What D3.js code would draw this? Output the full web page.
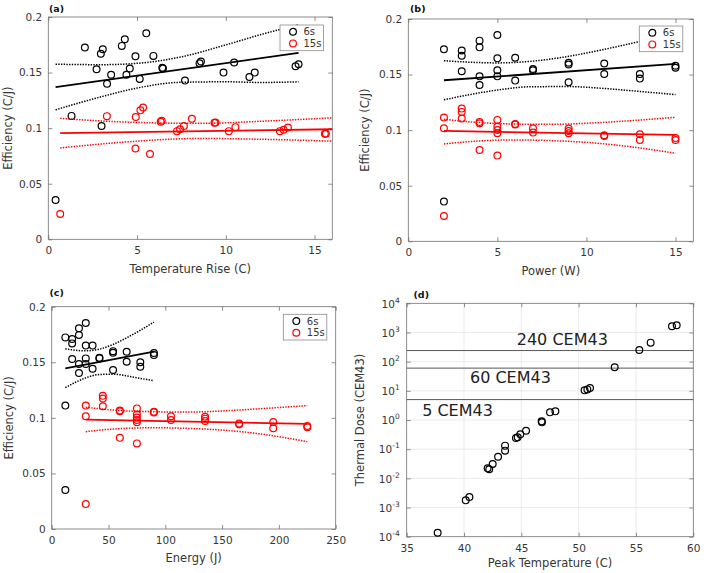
<!DOCTYPE html>
<html>
<head>
<meta charset="utf-8">
<script src="https://cdn.jsdelivr.net/npm/d3@7"></script>
<style>
  body { margin: 0; background: #fff; }
  svg { font-family: "DejaVu Sans", sans-serif; }
</style>
</head>
<body>
<svg width="709" height="573"></svg>
<script>
// ---- data ----
const seriesNames = ['6s', '15s'];
const efficiencyTicks = [0, 0.05, 0.1, 0.15, 0.2];

// (a) efficiency vs temperature rise
const tempRise6s = [[0.41,0.0353],[1.31,0.111],[2.06,0.1725],[2.72,0.153],[2.96,0.167],[3.07,0.171],
  [3.0,0.102],[3.31,0.140],[3.54,0.148],[4.14,0.174],[4.31,0.180],[4.40,0.148],[4.59,0.1536],
  [4.91,0.1647],[5.15,0.1443],[5.52,0.1853],[5.92,0.165],[6.42,0.1544],[6.46,0.1536],[7.70,0.1428],
  [8.52,0.1584],[8.60,0.160],[9.87,0.150],[10.47,0.159],[11.33,0.146],[11.63,0.150],[13.93,0.1557],[14.1,0.1575]];
const tempRise15s = [[0.67,0.0228],[3.30,0.1108],[4.93,0.110],[4.91,0.0817],[5.19,0.116],[5.34,0.1186],
  [5.73,0.0767],[6.33,0.1057],[6.39,0.1066],[7.25,0.0973],[7.42,0.099],[7.64,0.102],[8.09,0.1084],
  [9.36,0.1048],[9.42,0.105],[10.17,0.0973],[10.54,0.1009],[13.05,0.0973],[13.26,0.0985],[13.50,0.1006],
  [15.58,0.0949],[15.64,0.095]];
const tempFit6s = [[0.41,0.137],[14.1,0.1677]];
const tempUpper6s = [[0.41,0.1575],[3,0.1571],[5,0.1583],[7.4,0.1638],[10,0.1749],[12,0.1843],[14.1,0.1931]];
const tempLower6s = [[0.41,0.1165],[3,0.1283],[5,0.1361],[7.4,0.1412],[10,0.1417],[12,0.1411],[14.1,0.1417]];
const tempFit15s = [[0.67,0.0955],[16,0.0990]];
const tempUpper15s = [[0.67,0.1088],[4,0.1057],[8.5,0.1043],[12,0.1062],[16,0.1093]];
const tempLower15s = [[0.67,0.0822],[4,0.0871],[8.5,0.0907],[12,0.0900],[16,0.0883]];

// (b) efficiency vs power
const power6s = [[2,0.1727],[2,0.0357],[3,0.1716],[3,0.167],[3,0.153],[4,0.1805],[4,0.1745],[4,0.1484],
  [4,0.1406],[5,0.1856],[5,0.1646],[5,0.1539],[5,0.1484],[6,0.1652],[6,0.1446],[7,0.155],[7,0.1539],
  [9,0.1607],[9,0.159],[9,0.143],[11,0.160],[11,0.1505],[13,0.1505],[13,0.1464],[15,0.158],[15,0.1562]];
const power15s = [[2,0.1113],[2,0.1017],[2,0.0228],[3,0.1194],[3,0.1164],[3,0.1104],[4,0.1074],[4,0.1062],
  [4,0.0822],[5,0.1092],[5,0.1032],[5,0.1002],[5,0.0972],[5,0.0771],[6,0.1056],[6,0.105],[7,0.1017],
  [7,0.0978],[9,0.1014],[9,0.0993],[9,0.0972],[11,0.0954],[11,0.0948],[13,0.0963],[13,0.0912],[15,0.093],[15,0.0912]];
const powerFit6s = [[2,0.1449],[15,0.1596]];
const powerUpper6s = [[2,0.1625],[3.5,0.1611],[5,0.1605],[7,0.1621],[9,0.1664],[11,0.1727],[13,0.1798],[15,0.1874]];
const powerLower6s = [[2,0.1273],[3.5,0.1321],[5,0.1361],[7,0.1391],[9,0.1392],[11,0.1375],[13,0.1348],[15,0.1320]];
const powerFit15s = [[2,0.0993],[15,0.0957]];
const powerUpper15s = [[2,0.1098],[4,0.1068],[6,0.1055],[8,0.1052],[10,0.1062],[12,0.1080],[15,0.1116]];
const powerLower15s = [[2,0.0876],[4,0.0903],[6,0.0912],[8,0.0906],[10,0.0890],[12,0.0860],[15,0.0792]];

// (c) efficiency vs energy
const energy6s = [[12,0.1724],[12,0.111],[12,0.0351],[18,0.171],[18,0.167],[18,0.153],[24,0.1805],[24,0.1745],
  [24,0.1484],[24,0.1403],[30,0.1853],[30,0.165],[30,0.1535],[30,0.1484],[36,0.165],[36,0.1442],[42,0.1541],
  [42,0.1535],[54,0.160],[54,0.1586],[54,0.143],[66,0.1595],[66,0.1505],[78,0.150],[78,0.146],[90,0.1583],[90,0.1565]];
const energy15s = [[30,0.111],[30,0.1014],[30,0.0225],[45,0.1198],[45,0.1174],[45,0.1105],[60,0.1066],[60,0.106],
  [60,0.082],[75,0.1085],[75,0.103],[75,0.1003],[75,0.098],[75,0.096],[75,0.077],[90,0.1049],[90,0.1055],
  [105,0.1015],[105,0.098],[135,0.101],[135,0.0993],[135,0.0972],[165,0.095],[165,0.0942],[195,0.0963],
  [195,0.0906],[225,0.0927],[225,0.0915]];
const energyFit6s = [[12,0.1446],[90,0.1595]];
const energyUpper6s = [[12,0.1622],[21,0.1608],[30,0.1603],[42,0.1618],[54,0.1660],[66,0.1720],[78,0.1788],[90,0.1862]];
const energyLower6s = [[12,0.1272],[21,0.1320],[30,0.1360],[42,0.1390],[54,0.1393],[66,0.1378],[78,0.1355],[90,0.1335]];
const energyFit15s = [[30,0.0984],[225,0.0945]];
const energyUpper15s = [[30,0.1095],[60,0.1066],[90,0.1055],[120,0.1052],[150,0.1062],[180,0.1080],[225,0.1110]];
const energyLower15s = [[30,0.0876],[60,0.0903],[90,0.0911],[120,0.0905],[150,0.0890],[180,0.0860],[225,0.0786]];

// (d) thermal dose vs peak temperature
const peakTemp = [37.70,40.15,40.47,42.06,42.2,42.5,42.97,43.58,43.58,44.53,44.68,44.91,45.41,
  46.77,46.8,47.5,47.97,50.52,50.76,50.99,53.14,55.29,56.28,58.14,58.55];
const thermalDose = [1.37e-4,1.76e-3,2.29e-3,0.0220,0.0204,0.0309,0.0553,0.0891,0.132,0.2415,0.2547,0.3236,0.4305,
  0.899,0.832,1.83,1.98,10.4,11.2,12.5,64.0,251,448,1626,1762];
const doseThresholds = [5, 60, 240];
const peakTempTicks = [35, 40, 45, 50, 55, 60];
const doseTicks = [-4, -3, -2, -1, 0, 1, 2, 3, 4];

// ---- layout ----
const svg = d3.select('svg');
const boxColor = '#707070';
const textColor = '#363636';

const panels = [
  { tag: '(a)', tagPos: [49, 11.5], box: {l: 48.3, t: 17, r: 332.3, b: 239.3},
    xDomain: [0, 16], xTicks: [0, 5, 10, 15], xLabel: 'Temperature Rise (C)', xLabelY: 273, yLabelX: 12,
    six: tempRise6s, fifteen: tempRise15s,
    fit6: tempFit6s, up6: tempUpper6s, low6: tempLower6s,
    fit15: tempFit15s, up15: tempUpper15s, low15: tempLower15s,
    legend: [280, 25] },
  { tag: '(b)', tagPos: [410, 11.5], box: {l: 408.3, t: 19, r: 693.3, b: 241.3},
    xDomain: [0, 16], xTicks: [0, 5, 10, 15], xLabel: 'Power (W)', xLabelY: 275, yLabelX: 369,
    six: power6s, fifteen: power15s,
    fit6: powerFit6s, up6: powerUpper6s, low6: powerLower6s,
    fit15: powerFit15s, up15: powerUpper15s, low15: powerLower15s,
    legend: [639.3, 26] },
  { tag: '(c)', tagPos: [49.5, 296], box: {l: 51.7, t: 306.7, r: 335.7, b: 529},
    xDomain: [0, 250], xTicks: [0, 50, 100, 150, 200, 250], xLabel: 'Energy (J)', xLabelY: 562, yLabelX: 12.5,
    six: energy6s, fifteen: energy15s,
    fit6: energyFit6s, up6: energyUpper6s, low6: energyLower6s,
    fit15: energyFit15s, up15: energyUpper15s, low15: energyLower15s,
    legend: [283.3, 314.3] }
];

panels.forEach(drawScatterPanel);
drawDosePanel();

function styleAxis(sel) {
  sel.select('.domain').remove();
  sel.selectAll('.tick line').attr('stroke', boxColor).attr('stroke-width', 0.8);
  sel.selectAll('.tick text').attr('fill', textColor).style('font-size', '10.5px')
    .style('font-family', '"DejaVu Sans", sans-serif');
}

function drawFrame(g, box, x, y, xTicks, yTicks, yFormat) {
  g.append('g').attr('transform', `translate(0,${box.b})`)
    .call(d3.axisBottom(x).tickValues(xTicks).tickSize(-4).tickPadding(7.5).tickFormat(d3.format('~g')))
    .call(styleAxis);
  g.append('g').attr('transform', `translate(0,${box.t})`)
    .call(d3.axisTop(x).tickValues(xTicks).tickSize(-4).tickFormat(''))
    .call(styleAxis);
  g.append('g').attr('transform', `translate(${box.l},0)`)
    .call(d3.axisLeft(y).tickValues(yTicks).tickSize(-4).tickPadding(6).tickFormat(yFormat))
    .call(styleAxis);
  g.append('g').attr('transform', `translate(${box.r},0)`)
    .call(d3.axisRight(y).tickValues(yTicks).tickSize(-4).tickFormat(''))
    .call(styleAxis);
  g.append('rect')
    .attr('x', box.l).attr('y', box.t)
    .attr('width', box.r - box.l).attr('height', box.b - box.t)
    .attr('fill', 'none').attr('stroke', boxColor).attr('stroke-width', 0.8);
}

function drawLabels(g, p, yLabel) {
  const box = p.box;
  g.append('text').attr('x', (box.l + box.r) / 2).attr('y', p.xLabelY)
    .attr('text-anchor', 'middle').attr('fill', textColor).style('font-size', '11.5px')
    .text(p.xLabel);
  g.append('text')
    .attr('transform', `translate(${p.yLabelX},${(box.t + box.b) / 2}) rotate(-90)`)
    .attr('text-anchor', 'middle').attr('fill', textColor).style('font-size', '11.5px')
    .text(yLabel);
  g.append('text').attr('x', p.tagPos[0]).attr('y', p.tagPos[1])
    .attr('fill', '#111').style('font-size', '9.5px').style('font-weight', 'bold')
    .text(p.tag);
}

function drawScatterPanel(p) {
  const g = svg.append('g');
  const x = d3.scaleLinear().domain(p.xDomain).range([p.box.l, p.box.r]);
  const y = d3.scaleLinear().domain([0, 0.2]).range([p.box.b, p.box.t]);

  drawFrame(g, p.box, x, y, p.xTicks, efficiencyTicks, d3.format('~g'));
  drawLabels(g, p, 'Efficiency (C/J)');

  const series = [
    {pts: p.six, fit: p.fit6, up: p.up6, low: p.low6, color: '#000'},
    {pts: p.fifteen, fit: p.fit15, up: p.up15, low: p.low15, color: '#ff0000'}
  ];
  const line = d3.line().x(d => x(d[0])).y(d => y(d[1])).curve(d3.curveMonotoneX);

  series.forEach(s => {
    g.append('g').selectAll('circle')
      .data(s.pts).join('circle')
      .attr('cx', d => x(d[0])).attr('cy', d => y(d[1]))
      .attr('r', 3.4).attr('fill', 'none')
      .attr('stroke', s.color).attr('stroke-width', 1.2);
  });
  series.forEach(s => {
    g.append('path').datum(s.fit).attr('d', line)
      .attr('fill', 'none').attr('stroke', s.color).attr('stroke-width', 1.8);
    [s.up, s.low].forEach(b => {
      g.append('path').datum(b).attr('d', line)
        .attr('fill', 'none').attr('stroke', s.color).attr('stroke-width', 1.5)
        .attr('stroke-dasharray', '1.4 1.3');
    });
  });

  // legend
  const [lx, ly] = p.legend;
  const lg = g.append('g').attr('transform', `translate(${lx},${ly})`);
  lg.append('rect').attr('width', 43.5).attr('height', 25.7)
    .attr('fill', '#fff').attr('stroke', '#8a8a8a').attr('stroke-width', 0.8);
  seriesNames.forEach((name, i) => {
    const color = i === 0 ? '#000' : '#ff0000';
    lg.append('circle').attr('cx', 13).attr('cy', 6.8 + i * 11.6).attr('r', 3.4)
      .attr('fill', 'none').attr('stroke', color).attr('stroke-width', 1.2);
    lg.append('text').attr('x', 23.5).attr('y', 6.8 + i * 11.6).attr('dy', '0.35em')
      .attr('fill', textColor).style('font-size', '10px').text(name);
  });
}

function drawDosePanel() {
  const box = {l: 406.7, t: 303.3, r: 693.3, b: 536.7};
  const g = svg.append('g');
  const x = d3.scaleLinear().domain([35, 60]).range([box.l, box.r]);
  const y = d3.scaleLog().domain([1e-4, 1e4]).range([box.b, box.t]);
  const yTickVals = doseTicks.map(e => Math.pow(10, e));

  // grid
  g.append('g').selectAll('line.vg').data(peakTempTicks.slice(1, -1)).join('line')
    .attr('x1', d => x(d)).attr('x2', d => x(d)).attr('y1', box.t).attr('y2', box.b)
    .attr('stroke', '#e3e3e3').attr('stroke-width', 0.7);
  g.append('g').selectAll('line.hg').data(yTickVals.slice(1, -1)).join('line')
    .attr('x1', box.l).attr('x2', box.r).attr('y1', d => y(d)).attr('y2', d => y(d))
    .attr('stroke', '#e3e3e3').attr('stroke-width', 0.7);

  drawFrame(g, box, x, y, peakTempTicks, yTickVals, () => '');

  // power-of-ten tick labels
  g.append('g').selectAll('text').data(doseTicks).join('text')
    .attr('x', box.l - 7).attr('y', d => y(Math.pow(10, d)) + 4.2)
    .attr('text-anchor', 'end').attr('fill', textColor).style('font-size', '10.5px')
    .each(function (d) {
      const t = d3.select(this);
      t.append('tspan').text('10');
      t.append('tspan').attr('dy', -5).style('font-size', '7.5px').text(d < 0 ? '-' + (-d) : d);
    });

  // threshold lines
  const labelPos = {5: [36.35, 16], 60: [40.52, 15], 240: [44.6, -5.3]};
  doseThresholds.forEach(v => {
    g.append('line').attr('x1', box.l).attr('x2', box.r)
      .attr('y1', y(v)).attr('y2', y(v))
      .attr('stroke', '#585858').attr('stroke-width', 1);
    g.append('text').attr('x', x(labelPos[v][0])).attr('y', y(v) + labelPos[v][1])
      .attr('fill', '#222').style('font-size', '16px')
      .text(v + ' CEM43');
  });

  g.append('g').selectAll('circle').data(peakTemp).join('circle')
    .attr('cx', d => x(d)).attr('cy', (d, i) => y(thermalDose[i]))
    .attr('r', 3.4).attr('fill', 'none').attr('stroke', '#000').attr('stroke-width', 1.2);

  drawLabels(g, {box, xLabel: 'Peak Temperature (C)', xLabelY: 567, yLabelX: 364,
    tag: '(d)', tagPos: [413.5, 298]}, 'Thermal Dose (CEM43)');
}
</script>
</body>
</html>
